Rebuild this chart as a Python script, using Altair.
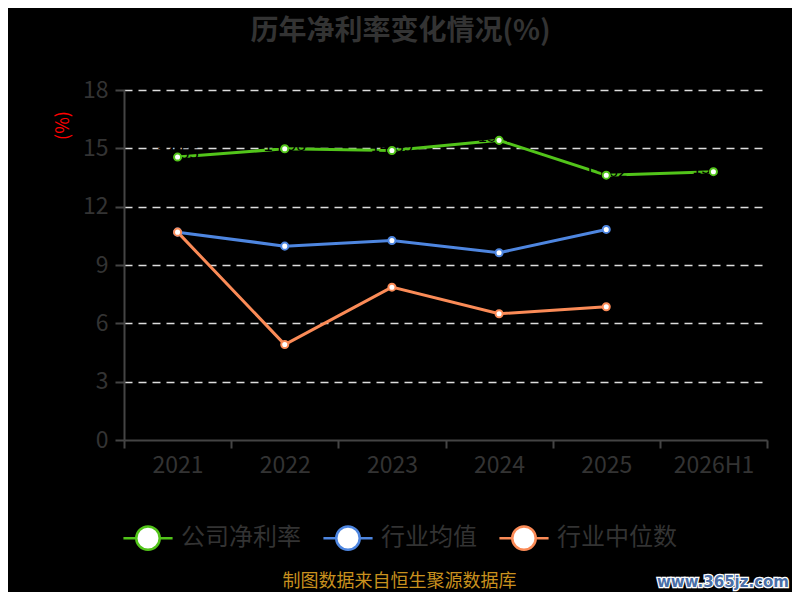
import altair as alt
import pandas as pd

years = ["2021", "2022", "2023", "2024", "2025", "2026H1"]
company = [14.55, 14.98, 14.89, 15.41, 13.62, 13.80]
ind_avg = [10.69, 9.97, 10.26, 9.63, 10.83]
ind_med = [10.69, 4.91, 7.86, 6.49, 6.85]
series_names = ["公司净利率", "行业均值", "行业中位数"]
series_colors = ["#52c41a", "#4e86e0", "#fb8b57"]
y_ticks = [0, 3, 6, 9, 12, 15, 18]
title_text = "历年净利率变化情况(%)"
footer_text = "制图数据来自恒生聚源数据库"
watermark_text = "www.365jz.com"

rows = []
for name, vals in zip(series_names, [company, ind_avg, ind_med]):
    for yr, v in zip(years, vals):
        rows.append({"year": yr, "value": v, "series": name})
df = pd.DataFrame(rows)
df_company = df[df["series"] == series_names[0]].copy()
df_company["label"] = df_company["value"].map(lambda v: f"{v:.2f}")

FONT = "Noto Sans CJK SC"
TXT = "#333333"
AX = "#444444"

x_enc = alt.X(
    "year:N",
    sort=years,
    scale=alt.Scale(type="band", domain=years, paddingInner=0, paddingOuter=0),
    axis=alt.Axis(
        title=None, labelAngle=0, tickBand="extent", domainColor=AX, tickColor=AX,
        domainWidth=2, tickWidth=2, tickSize=8, labelFont=FONT, labelFontSize=23,
        labelColor=TXT, labelPadding=6, grid=False,
    ),
)
y_enc = alt.Y(
    "value:Q",
    scale=alt.Scale(domain=[0, 18], nice=False, zero=True),
    axis=alt.Axis(
        values=y_ticks, title="(%)", titleColor="red", titleFont=FONT, titleFontSize=18,
        titleFontWeight="normal", titleX=-52, titleY=35, titleAngle=-90,
        domainColor=AX, domainWidth=2, tickColor=AX, tickWidth=2, tickSize=9,
        labelFont=FONT, labelFontSize=23, labelColor=TXT, labelPadding=7,
        grid=True, gridDash=[8, 6], gridWidth=1.5,
        gridColor={"condition": {"test": "datum.value === 0", "value": "transparent"}, "value": "#dddddd"},
    ),
)

stroke_scale = alt.Scale(domain=series_names, range=series_colors)
legend_path = "M-2.1,0L-1,0M1,0L2.1,0M-1,0A1,1,0,1,1,1,0A1,1,0,1,1,-1,0Z"
legend = alt.Legend(
    title=None, orient="none", legendX=11, legendY=435, direction="horizontal",
    symbolType=legend_path, symbolSize=548, symbolStrokeWidth=2.5,
    symbolFillColor="white", symbolOpacity=1, labelFont=FONT, labelFontSize=24, labelColor=TXT,
    labelOffset=20, columnPadding=17, padding=0, labelLimit=300,
)

lines = alt.Chart(df).mark_line(strokeWidth=3).encode(
    x=x_enc, y=y_enc,
    stroke=alt.Stroke("series:N", scale=stroke_scale, legend=legend, sort=series_names),
)
points = alt.Chart(df).mark_point(filled=False, fill="white", fillOpacity=1, size=50, strokeWidth=2, opacity=1).encode(
    x=x_enc, y=y_enc,
    stroke=alt.Stroke("series:N", scale=stroke_scale, legend=legend, sort=series_names),
)
labels = alt.Chart(df_company).mark_text(
    color="black", font=FONT, fontSize=17, dy=-3, baseline="middle"
).encode(x=x_enc, y=y_enc, text="label:N")

footer = alt.Chart(pd.DataFrame({"t": [footer_text]})).mark_text(
    color="#c8901e", font=FONT, fontSize=18, baseline="alphabetic", align="center"
).encode(text="t:N", x=alt.value(275.5), y=alt.value(497))
wm_back = alt.Chart(pd.DataFrame({"t": [watermark_text]})).mark_text(
    color="#4a6fa8", stroke="white", strokeWidth=2.5, font="DejaVu Sans", fontSize=15,
    fontWeight="bold", baseline="middle", align="center"
).encode(text="t:N", x=alt.value(599), y=alt.value(492))
wm_front = alt.Chart(pd.DataFrame({"t": [watermark_text]})).mark_text(
    color="#4a6fa8", font="DejaVu Sans", fontSize=15,
    fontWeight="bold", baseline="middle", align="center"
).encode(text="t:N", x=alt.value(599), y=alt.value(492))

chart = alt.layer(lines, labels, points, footer, wm_back, wm_front).properties(
    width=643, height=350,
    title=alt.TitleParams(
        text=title_text, anchor="middle", dx=-45, offset=33, font=FONT,
        fontSize=28, fontWeight="bold", color=TXT,
    ),
    padding={"left": 116, "top": 82, "right": 25, "bottom": 152},
    autosize=alt.AutoSizeParams(type="none"),
).configure(background="black").configure_view(stroke=None)

chart.save("out.html", embed_options={"renderer": "svg", "actions": False})
